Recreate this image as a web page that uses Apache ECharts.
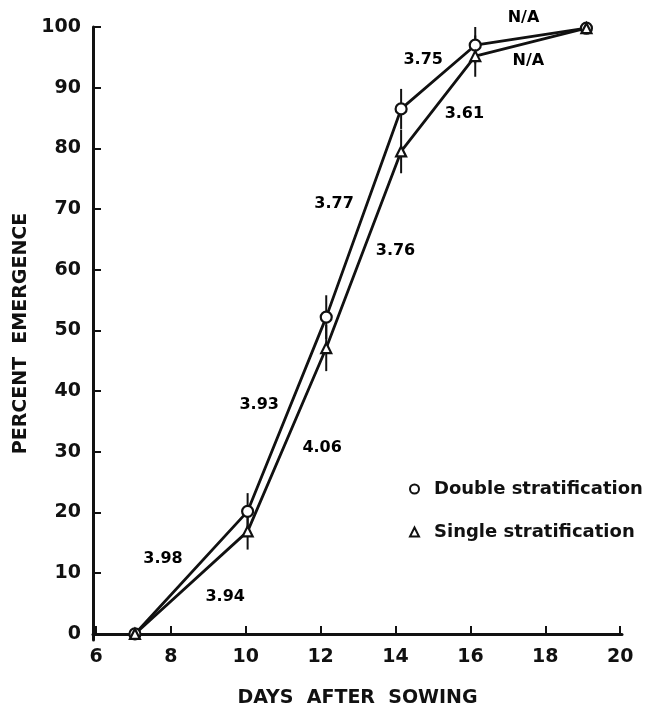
<!DOCTYPE html>
<html><head><meta charset="utf-8">
<script src="https://cdn.jsdelivr.net/npm/echarts@6/dist/echarts.min.js"></script>
<style>html,body{margin:0;padding:0;background:#fff}#c{width:652px;height:713px}</style>
</head><body><div id="c"></div>
<script>
const days = [7.04, 10.05, 12.15, 14.15, 16.13, 19.1];
const doubleVals = [0, 20.2, 52.2, 86.5, 97.0, 99.8];
const singleVals = [0, 16.9, 47.1, 79.5, 95.2, 99.8];
const doubleErr = [0, 3.0, 3.6, 3.3, 3.0, 0];
const singleErr = [0, 3.0, 3.8, 3.6, 3.4, 0];
const xTicks = [6, 8, 10, 12, 14, 16, 18, 20];
const yTicks = [0, 10, 20, 30, 40, 50, 60, 70, 80, 90, 100];
const annoX = [7.79, 9.45, 10.36, 12.04, 12.36, 14.0, 14.74, 15.84, 17.42, 17.55];
const annoY = [12.3, 6.1, 37.8, 30.7, 70.9, 63.1, 94.6, 85.7, 101.5, 94.4];
const annoText = ['3.98', '3.94', '3.93', '4.06', '3.77', '3.76', '3.75', '3.61', 'N/A', 'N/A'];

const F = 'DejaVu Sans';
const chart = echarts.init(document.getElementById('c'));
function pairs(xs, ys) { return xs.map((x, i) => [x, ys[i]]); }
function errData(vals, errs) {
  const out = [];
  days.forEach((d, i) => { if (errs[i] > 0) out.push([d, vals[i] - errs[i], vals[i] + errs[i]]); });
  return out;
}
const errSeries = (name, data) => ({
  type: 'custom', name: name + ' err', silent: true, z: 1,
  data: data,
  renderItem: (params, api) => {
    const p1 = api.coord([api.value(0), api.value(1)]);
    const p2 = api.coord([api.value(0), api.value(2)]);
    return { type: 'line', shape: { x1: p1[0], y1: p1[1], x2: p2[0], y2: p2[1] }, style: { stroke: '#111', lineWidth: 2 } };
  }
});
chart.setOption({
  animation: false,
  backgroundColor: '#fff',
  grid: { left: 93, right: 30, top: 27, bottom: 70 },
  xAxis: {
    type: 'value', min: 5.92, max: 20.05,
    name: 'DAYS  AFTER  SOWING', nameLocation: 'middle', nameGap: 49,
    nameTextStyle: { fontFamily: F, fontWeight: 'bold', fontSize: 19, color: '#111' },
    axisLine: { lineStyle: { color: '#111', width: 3 } },
    axisTick: { inside: true, length: 8, lineStyle: { color: '#111', width: 2 }, customValues: xTicks },
    axisLabel: { fontFamily: F, fontWeight: 'bold', fontSize: 19, color: '#111', margin: 8, customValues: xTicks },
    splitLine: { show: false }
  },
  yAxis: {
    type: 'value', min: -1, max: 100,
    name: 'PERCENT  EMERGENCE', nameLocation: 'middle', nameGap: 60, nameRotate: 90,
    nameTextStyle: { fontFamily: F, fontWeight: 'bold', fontSize: 19, color: '#111' },
    axisLine: { lineStyle: { color: '#111', width: 3 } },
    axisTick: { inside: true, length: 8, lineStyle: { color: '#111', width: 2 }, customValues: yTicks },
    axisLabel: { fontFamily: F, fontWeight: 'bold', fontSize: 19, color: '#111', margin: 12, customValues: yTicks },
    splitLine: { show: false }
  },
  legend: {
    orient: 'vertical', left: 404, top: 475, itemGap: 25, itemWidth: 9, itemHeight: 9,
    data: [{ name: 'Double stratification', icon: 'circle' }, { name: 'Single stratification', icon: 'triangle' }],
    itemStyle: { color: '#fff', borderColor: '#111', borderWidth: 2 },
    textStyle: { fontFamily: F, fontWeight: 'bold', fontSize: 18, color: '#111', padding: [0, 0, 0, 10] }
  },
  series: [
    errSeries('Double', errData(doubleVals, doubleErr)),
    errSeries('Single', errData(singleVals, singleErr)),
    {
      name: 'Double stratification', type: 'line', data: pairs(days, doubleVals), z: 3,
      symbol: 'circle', symbolSize: 11,
      lineStyle: { color: '#111', width: 2.8 },
      itemStyle: { color: '#fff', borderColor: '#111', borderWidth: 2.2 }
    },
    {
      name: 'Single stratification', type: 'line', data: pairs(days, singleVals), z: 3,
      symbol: 'triangle', symbolSize: 10,
      lineStyle: { color: '#111', width: 2.8 },
      itemStyle: { color: '#fff', borderColor: '#111', borderWidth: 2.2 }
    },
    {
      name: 'annotations', type: 'scatter', symbolSize: 0, clip: false, silent: true,
      itemStyle: { opacity: 1 },
      data: annoX.map((x, i) => ({ value: [x, annoY[i]], label: { formatter: annoText[i] } })),
      label: { show: true, position: [0, 0], align: 'center', verticalAlign: 'middle', fontFamily: F, fontWeight: 'bold', fontSize: 16, color: '#000', opacity: 1 }
    }
  ]
});
</script></body></html>
